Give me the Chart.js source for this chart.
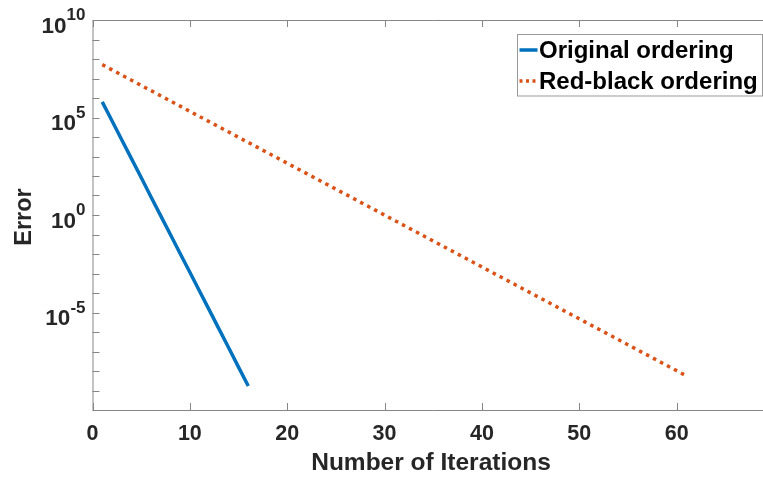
<!DOCTYPE html>
<html>
<head>
<meta charset="utf-8">
<script src="https://cdn.jsdelivr.net/npm/chart.js@4"></script>
<style>
  html, body { margin: 0; padding: 0; background: #fff; overflow: hidden; }
  #wrap { width: 763px; height: 477px; overflow: hidden; position: relative; }
  #box { width: 790px; height: 477px; }
</style>
</head>
<body>
<div id="wrap"><div id="box"><canvas id="c"></canvas></div></div>
<script>
// Iteration numbers and residual error per iteration
const originalIters = [1,2,3,4,5,6,7,8,9,10,11,12,13,14,15,16];
const originalError = [6.31e5, 6.76e4, 7.24e3, 776, 83.2, 8.71, 0.933, 0.100,
  1.07e-2, 1.15e-3, 1.23e-4, 1.32e-5, 1.41e-6, 1.51e-7, 1.58e-8, 1.70e-9];

const redBlackIters = [1,2,3,4,5,6,7,8,9,10,11,12,13,14,15,16,17,18,19,20,
  21,22,23,24,25,26,27,28,29,30,31,32,33,34,35,36,37,38,39,40,
  41,42,43,44,45,46,47,48,49,50,51,52,53,54,55,56,57,58,59,60,61];
const redBlackError = [5.13e7, 2.78e7, 1.51e7, 8.17e6, 4.43e6, 2.40e6, 1.30e6, 7.05e5, 3.82e5, 2.07e5,
  1.12e5, 6.08e4, 3.30e4, 1.79e4, 9.68e3, 5.25e3, 2.84e3, 1.54e3, 836, 453,
  245, 133, 72.1, 39.1, 21.2, 11.5, 6.22, 3.37, 1.83, 0.991,
  0.537, 0.291, 0.158, 8.55e-2, 4.63e-2, 2.51e-2, 1.36e-2, 7.38e-3, 4.00e-3, 2.17e-3,
  1.17e-3, 6.37e-4, 3.45e-4, 1.87e-4, 1.01e-4, 5.50e-5, 2.98e-5, 1.61e-5, 8.75e-6, 4.74e-6,
  2.57e-6, 1.39e-6, 7.55e-7, 4.09e-7, 2.22e-7, 1.20e-7, 6.52e-8, 3.53e-8, 1.91e-8, 1.04e-8,
  5.62e-9];

const seriesNames = ['Original ordering', 'Red-black ordering'];
const xTicks = [0, 10, 20, 30, 40, 50, 60, 70];
const xLabels = [0, 10, 20, 30, 40, 50, 60];
const yTickExps = [-10,-9,-8,-7,-6,-5,-4,-3,-2,-1,0,1,2,3,4,5,6,7,8,9,10];
const yLabelExps = [-5, 0, 5, 10];
const xTitle = 'Number of Iterations';
const yTitle = 'Error';

const BLUE = '#0072BD';
const RED = '#D95319';
const AXIS = '#868686';
const TEXT = '#262626';
const FONT = '"Liberation Sans", Arial, sans-serif';

const toPoints = (xs, ys) => xs.map((x, i) => ({ x: x, y: ys[i] }));

const decorations = {
  id: 'decorations',
  afterDraw(chart) {
    const ctx = chart.ctx;
    const a = chart.chartArea;
    const xs = chart.scales.x, ys = chart.scales.y;
    ctx.save();

    // axes box
    ctx.strokeStyle = AXIS;
    ctx.lineWidth = 1;
    ctx.beginPath();
    ctx.rect(a.left + 0.5, a.top + 0.5, a.right - a.left, a.bottom - a.top);
    ctx.stroke();

    // inward tick marks
    ctx.beginPath();
    xTicks.forEach(v => {
      const px = Math.round(xs.getPixelForValue(v)) + 0.5;
      ctx.moveTo(px, a.bottom); ctx.lineTo(px, a.bottom - 7);
      ctx.moveTo(px, a.top); ctx.lineTo(px, a.top + 7);
    });
    yTickExps.forEach(e => {
      const py = Math.round(ys.getPixelForValue(Math.pow(10, e))) + 0.5;
      ctx.moveTo(a.left, py); ctx.lineTo(a.left + 7, py);
      ctx.moveTo(a.right, py); ctx.lineTo(a.right - 7, py);
    });
    ctx.stroke();

    ctx.fillStyle = TEXT;

    // x tick labels
    ctx.font = 'bold 21.5px ' + FONT;
    ctx.textAlign = 'center';
    ctx.textBaseline = 'alphabetic';
    xLabels.forEach(v => {
      ctx.fillText(String(v), xs.getPixelForValue(v), a.bottom + 30);
    });

    // y tick labels as powers of ten
    yLabelExps.forEach(e => {
      const py = ys.getPixelForValue(Math.pow(10, e));
      const right = a.left - 7;
      ctx.textAlign = 'right';
      ctx.font = 'bold 17px ' + FONT;
      const expText = String(e);
      const w = ctx.measureText(expText).width;
      ctx.fillText(expText, right, py);
      ctx.font = 'bold 22.5px ' + FONT;
      ctx.fillText('10', right - w, py + 12.5);
    });

    // axis titles
    ctx.font = 'bold 24.5px ' + FONT;
    ctx.textAlign = 'center';
    ctx.textBaseline = 'middle';
    ctx.fillText(xTitle, 431, 463);
    ctx.font = 'bold 23.5px ' + FONT;
    ctx.save();
    ctx.translate(25, 217);
    ctx.rotate(-Math.PI / 2);
    ctx.fillText(yTitle, 0, 0);
    ctx.restore();

    // legend
    const lx = 517.5, ly = 34.5, lw = 245, lh = 61.5;
    ctx.fillStyle = '#fff';
    ctx.fillRect(lx, ly, lw, lh);
    ctx.strokeStyle = '#999999';
    ctx.lineWidth = 1;
    ctx.strokeRect(lx, ly, lw, lh);
    const rows = [
      { name: seriesNames[0], color: BLUE, dash: [], y: 50 },
      { name: seriesNames[1], color: RED, dash: [3, 3.5], y: 81 }
    ];
    rows.forEach(r => {
      ctx.strokeStyle = r.color;
      ctx.lineWidth = 3.5;
      ctx.setLineDash(r.dash);
      ctx.beginPath();
      ctx.moveTo(519.5, r.y); ctx.lineTo(537.5, r.y);
      ctx.stroke();
      ctx.setLineDash([]);
      ctx.fillStyle = '#000';
      ctx.font = 'bold 24px ' + FONT;
      ctx.textAlign = 'left';
      ctx.textBaseline = 'middle';
      ctx.fillText(r.name, 539, r.y + 1);
    });
    ctx.restore();
  }
};

new Chart(document.getElementById('c'), {
  type: 'line',
  data: {
    datasets: [
      {
        label: seriesNames[0],
        data: toPoints(originalIters, originalError),
        borderColor: BLUE,
        borderWidth: 3.5,
        pointRadius: 0,
        tension: 0,
        fill: false
      },
      {
        label: seriesNames[1],
        data: toPoints(redBlackIters, redBlackError),
        borderColor: RED,
        borderWidth: 3.5,
        borderDash: [3.5, 4.4],
        borderCapStyle: 'butt',
        pointRadius: 0,
        tension: 0,
        fill: false
      }
    ]
  },
  options: {
    responsive: true,
    maintainAspectRatio: false,
    animation: false,
    devicePixelRatio: 1,
    layout: { padding: { left: 0, top: 20, right: 16, bottom: 0 } },
    plugins: { legend: { display: false }, tooltip: { enabled: false } },
    scales: {
      x: {
        type: 'linear',
        min: 0, max: 70,
        grid: { display: false, drawTicks: false },
        border: { display: false },
        ticks: { display: false, stepSize: 10 },
        afterFit(s) { s.height = 67; }
      },
      y: {
        type: 'logarithmic',
        min: 1e-10, max: 1e10,
        grid: { display: false, drawTicks: false },
        border: { display: false },
        ticks: { display: false },
        afterFit(s) { s.width = 92.5; }
      }
    }
  },
  plugins: [decorations]
});
</script>
</body>
</html>
